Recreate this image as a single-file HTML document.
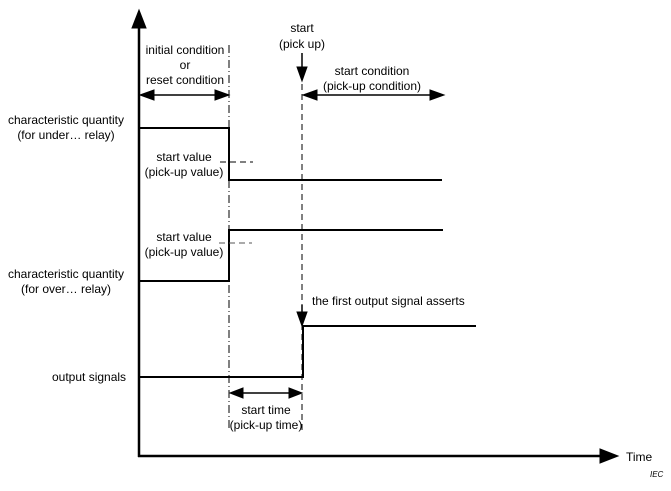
<!DOCTYPE html>
<html><head><style>body{margin:0;background:#fff}</style></head><body>
<svg width="671" height="486" xmlns="http://www.w3.org/2000/svg" font-family="Liberation Sans, sans-serif" font-size="12" fill="#000">
<g stroke="#000" fill="none">
<line x1="139" y1="457" x2="139" y2="14" stroke-width="2.5"/>
<path d="M132,28L139,10L146,28z" fill="#000"/>
<line x1="138" y1="456" x2="604" y2="456" stroke-width="2.5"/>
<path d="M600,449L618,456L600,463z" fill="#000"/>
<line x1="229" y1="45" x2="229" y2="430" stroke-width="1" stroke-dasharray="8,3,1,3"/>
<line x1="302" y1="84" x2="302" y2="430" stroke-width="1" stroke-dasharray="6,4"/>
<path d="M139,128H229V180H442" stroke-width="2"/>
<path d="M139,281H229V230H443" stroke-width="2"/>
<path d="M139,377H303V326H476" stroke-width="2"/>
<line x1="220" y1="162" x2="253" y2="162" stroke-width="1" stroke-dasharray="6,4"/>
<line x1="219" y1="243" x2="252" y2="243" stroke-width="1" stroke-dasharray="6,4" stroke="#555"/>
<line x1="150" y1="95" x2="218" y2="95" stroke-width="1.5"/>
<path d="M140,95L154,90L154,100z" fill="#000"/><path d="M229,95L215,90L215,100z" fill="#000"/>
<line x1="313" y1="95" x2="432" y2="95" stroke-width="1.5"/>
<path d="M303,95L317,90L317,100z" fill="#000"/><path d="M444,95L430,90L430,100z" fill="#000"/>
<line x1="240" y1="393" x2="292" y2="393" stroke-width="1.5"/>
<path d="M230,393L243,388L243,398z" fill="#000"/><path d="M302,393L289,388L289,398z" fill="#000"/>
<line x1="302" y1="53" x2="302" y2="70" stroke-width="1.5"/>
<path d="M297,67L302,81L307,67z" fill="#000"/>
<line x1="302" y1="305" x2="302" y2="313" stroke-width="1.5"/>
<path d="M297,312L302,326L307,312z" fill="#000"/>
</g>
<g text-anchor="middle">
<text x="185" y="54">initial condition</text>
<text x="185" y="69">or</text>
<text x="185" y="84">reset condition</text>
<text x="302" y="32">start</text>
<text x="302" y="48">(pick up)</text>
<text x="372" y="75">start condition</text>
<text x="372" y="90">(pick-up condition)</text>
<text x="184" y="161">start value</text>
<text x="184" y="176">(pick-up value)</text>
<text x="184" y="241">start value</text>
<text x="184" y="256">(pick-up value)</text>
<text x="266" y="414">start time</text>
<text x="266" y="429">(pick-up time)</text>
<text x="66" y="124">characteristic quantity</text>
<text x="66" y="139">(for under… relay)</text>
<text x="66" y="278">characteristic quantity</text>
<text x="66" y="293">(for over… relay)</text>
</g>
<text x="52" y="381">output signals</text>
<text x="312" y="305">the first output signal asserts</text>
<text x="626" y="461">Time</text>
<text x="650" y="477" font-size="8" font-style="italic">IEC</text>
</svg>
</body></html>
